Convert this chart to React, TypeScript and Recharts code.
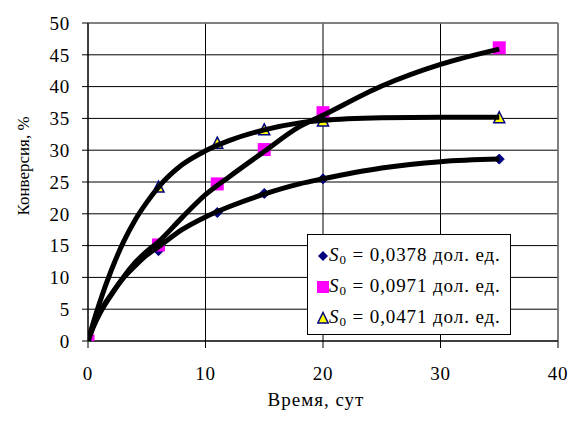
import React from "react";
import {
  ComposedChart,
  Line,
  XAxis,
  YAxis,
  CartesianGrid,
  ReferenceLine,
  Legend,
  Label,
} from "recharts";

// measured points (days, conversion %)
const days = [0, 6, 11, 15, 20, 35];
const convS1 = [0, 14.2, 20.2, 23.2, 25.5, 28.6]; // S0 = 0,0378
const convS2 = [0, 15.1, 24.7, 30.1, 35.9, 46.1]; // S0 = 0,0971
const convS3 = [0, 24.2, 31.1, 33.2, 34.6, 35.1]; // S0 = 0,0471

// trend curves
const fitDays = [0, 0.5, 1, 2, 3, 4, 5, 6, 8, 10, 12, 15, 18, 20, 25, 30, 35];
const fitS1 = [0, 2.6, 4.5, 7.4, 9.9, 11.8, 13.5, 14.8, 17.5, 19.5, 21.1, 23.1, 24.7, 25.5, 27.2, 28.2, 28.6];
const fitS2 = [0, 2.4, 4.3, 7.3, 10.0, 12.3, 14.1, 15.6, 19.4, 23.0, 25.8, 29.8, 33.7, 35.5, 40.1, 43.5, 45.9];
const fitS3 = [0, 3.2, 6.1, 11.2, 15.5, 19.0, 21.8, 24.2, 27.7, 29.9, 31.5, 33.2, 34.3, 34.7, 35.1, 35.2, 35.2];

const xTicks = [0, 10, 20, 30, 40];
const yTicks = [0, 5, 10, 15, 20, 25, 30, 35, 40, 45, 50];

const legendLabels = ["0,0378", "0,0971", "0,0471"];

const NAVY = "#000080";
const MAGENTA = "#ff00ff";
const YELLOW = "#ffff00";
const FONT = "'Liberation Serif', 'Times New Roman', serif";

const toPoints = (xs: number[], ys: number[]) => xs.map((x, i) => ({ x, y: ys[i] }));

const DiamondDot = (p: any) => (
  <polygon
    key={p.key}
    points={`${p.cx},${p.cy - 5} ${p.cx + 5},${p.cy} ${p.cx},${p.cy + 5} ${p.cx - 5},${p.cy}`}
    fill={NAVY}
    stroke={NAVY}
  />
);

const SquareDot = (p: any) => (
  <rect key={p.key} x={p.cx - 6.5} y={p.cy - 6.5} width={13} height={13} fill={MAGENTA} />
);

const TriangleDot = (p: any) => (
  <polygon
    key={p.key}
    points={`${p.cx},${p.cy - 6} ${p.cx + 5.5},${p.cy + 5} ${p.cx - 5.5},${p.cy + 5}`}
    fill={YELLOW}
    stroke={NAVY}
    strokeWidth={1.5}
  />
);

function LegendMarker({ idx }: { idx: number }) {
  return (
    <svg width={12} height={14} style={{ marginLeft: 9, flex: "none" }}>
      {idx === 0 && <polygon points="6,2 11,7 6,12 1,7" fill={NAVY} />}
      {idx === 1 && <rect x={0} y={1} width={12} height={12} fill={MAGENTA} />}
      {idx === 2 && (
        <polygon points="6,1.5 11.2,12 0.8,12" fill={YELLOW} stroke={NAVY} strokeWidth={1.5} />
      )}
    </svg>
  );
}

function LegendBox() {
  return (
    <div
      style={{
        boxSizing: "border-box",
        width: 204,
        height: 101,
        border: "1px solid #000",
        background: "#fff",
        paddingTop: 5,
        fontFamily: FONT,
        fontSize: 19,
        letterSpacing: 0.9,
        color: "#000",
      }}
    >
      {legendLabels.map((v, i) => (
        <div key={v} style={{ display: "flex", alignItems: "center", height: 31, whiteSpace: "nowrap" }}>
          <LegendMarker idx={i} />
          <span>
            <i>S</i>
            <sub style={{ fontSize: 13, verticalAlign: "-3px" }}>0</sub> = {v} дол. ед.
          </span>
        </div>
      ))}
    </div>
  );
}

export default function App() {
  const tickStyle = { fill: "#000", fontSize: 19, fontFamily: FONT, letterSpacing: 0.8 };
  const curveProps = {
    dataKey: "y",
    type: "monotone" as const,
    stroke: "#000",
    strokeWidth: 5,
    dot: false,
    activeDot: false,
    isAnimationActive: false,
    zIndex: 1200,
  };
  return (
    <div style={{ position: "absolute", left: 0, top: 0, background: "#fff" }}>
      <ComposedChart
        width={570}
        height={421}
        margin={{ top: 23, right: 12, left: 28, bottom: 20 }}
        style={{ fontFamily: FONT }}
      >
        <CartesianGrid stroke="#000" strokeWidth={1} fill="none" />
        <XAxis
          dataKey="x"
          type="number"
          domain={[0, 40]}
          ticks={xTicks}
          height={60}
          stroke="#000"
          tickSize={7}
          tickMargin={19}
          tick={tickStyle}
          allowDataOverflow
        >
          <Label
            content={({ viewBox }: any) => (
              <text
                x={viewBox.x + viewBox.width / 2 - 7}
                y={viewBox.y + 65}
                textAnchor="middle"
                fontSize={19}
                letterSpacing={1}
                fontFamily={FONT}
                fill="#000"
              >
                Время, сут
              </text>
            )}
          />
        </XAxis>
        <YAxis
          type="number"
          domain={[0, 50]}
          ticks={yTicks}
          width={60}
          stroke="#000"
          tickSize={6}
          tickMargin={12}
          tick={tickStyle}
          allowDataOverflow
        >
          <Label
            content={({ viewBox }: any) => {
              const cx = viewBox.x + 1;
              const cy = viewBox.y + viewBox.height / 2 - 16;
              return (
                <text
                  x={cx}
                  y={cy}
                  transform={`rotate(-90, ${cx}, ${cy})`}
                  textAnchor="middle"
                  fontSize={17}
                  fontFamily={FONT}
                  fill="#000"
                >
                  Конверсия, %
                </text>
              );
            }}
          />
        </YAxis>
        <ReferenceLine y={50} stroke="#808080" strokeWidth={1.5} />
        <ReferenceLine x={40} stroke="#808080" strokeWidth={1.5} />

        {/* markers first, trend curves drawn over them */}
        <Line data={toPoints(days, convS1)} dataKey="y" stroke="none" dot={DiamondDot} activeDot={false} isAnimationActive={false} />
        <Line data={toPoints(days, convS2)} dataKey="y" stroke="none" dot={SquareDot} activeDot={false} isAnimationActive={false} />
        <Line data={toPoints(days, convS3)} dataKey="y" stroke="none" dot={TriangleDot} activeDot={false} isAnimationActive={false} />

        <Line data={toPoints(fitDays, fitS1)} {...curveProps} />
        <Line data={toPoints(fitDays, fitS2)} {...curveProps} />
        <Line data={toPoints(fitDays, fitS3)} {...curveProps} />

        <Legend
          layout="vertical"
          align="center"
          verticalAlign="middle"
          content={() => <LegendBox />}
          wrapperStyle={{ left: 307, top: 234, width: 204, height: 101 }}
        />
      </ComposedChart>
    </div>
  );
}
